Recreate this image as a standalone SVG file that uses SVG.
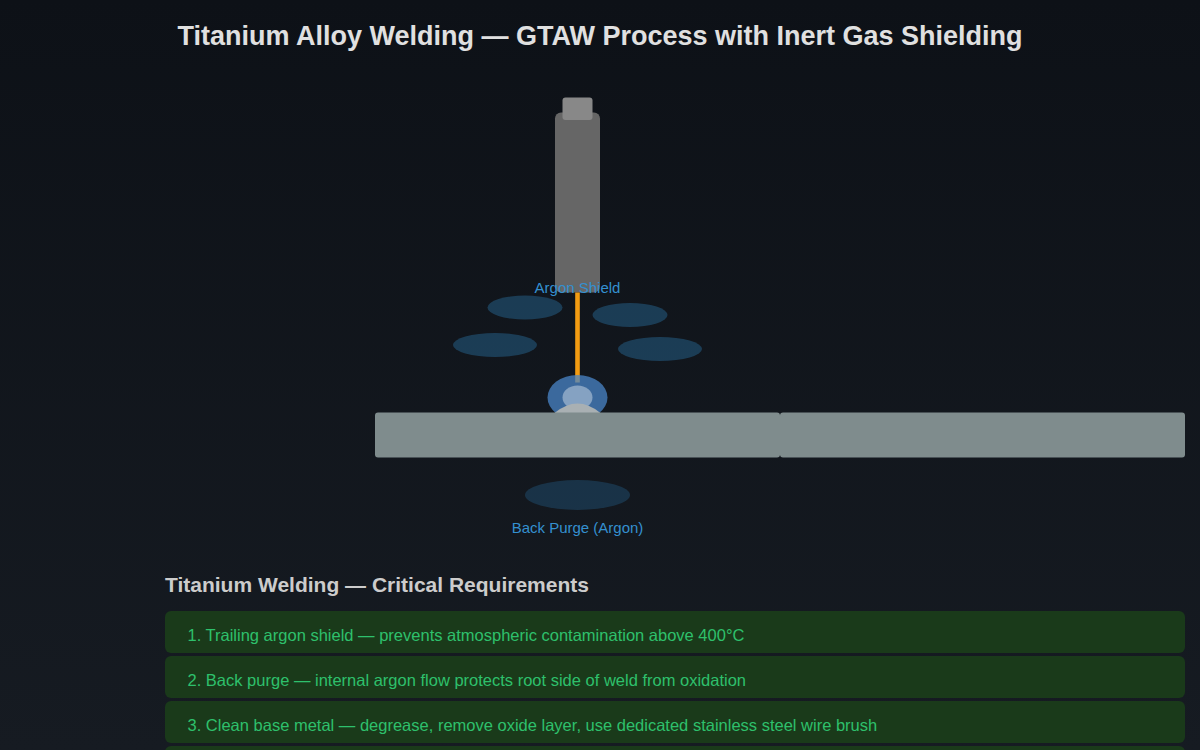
<svg xmlns="http://www.w3.org/2000/svg" width="1200" height="750" viewBox="0 0 1200 750">
  <style>
    text { font-family: "Liberation Sans", Arial, sans-serif; }
    .title { font-size: 27px; font-weight: 700; fill: #e0e0e0; text-anchor: middle; }
    .heading { font-size: 21px; font-weight: 700; fill: #cccccc; }
    .gas-label { font-size: 15px; fill: #3490d0; text-anchor: middle; }
    .gas { fill: #3498db; opacity: 0.3; }
    .purge { fill: #3498db; opacity: 0.22; }
    .plate { fill: #7f8c8d; }
    .card { fill: #1a3a1a; }
    .card-text { font-size: 16.5px; fill: #2ec06c; }
  </style>
  <defs>
    <linearGradient id="backdrop" x1="0" y1="0" x2="0" y2="1">
      <stop offset="0" stop-color="#0d1117"/>
      <stop offset="1" stop-color="#161b22"/>
    </linearGradient>
  </defs>
  <rect width="1200" height="750" fill="url(#backdrop)"/>
  <text class="title" x="600" y="45">Titanium Alloy Welding — GTAW Process with Inert Gas Shielding</text>

  <g id="torch">
    <rect x="555" y="112.5" width="45" height="180" rx="6" fill="#666666"/>
    <rect x="562.5" y="97.5" width="30" height="22.5" rx="3" fill="#888888"/>
  </g>
  <g id="electrode">
    <rect x="575.2" y="292.5" width="4.6" height="90" fill="#f39c12"/>
  </g>
  <g id="shield-gas">
    <ellipse class="gas" cx="525" cy="307.5" rx="37.5" ry="12"/>
    <ellipse class="gas" cx="630" cy="315" rx="37.5" ry="12"/>
    <ellipse class="gas" cx="495" cy="345" rx="42" ry="12"/>
    <ellipse class="gas" cx="660" cy="349" rx="42" ry="12"/>
    <text class="gas-label" x="577.5" y="292.5">Argon Shield</text>
  </g>
  <g id="arc">
    <ellipse cx="577.5" cy="397.5" rx="30" ry="22.5" fill="#4a86c8" opacity="0.75"/>
    <ellipse cx="577.5" cy="397.5" rx="15" ry="12" fill="#ffffff" opacity="0.38"/>
  </g>
  <g id="weld-bead">
    <path d="M554.5 413 Q577.5 394 600.5 413 Z" fill="#a9b0b3"/>
  </g>
  <g id="plate-left">
    <rect class="plate" x="375" y="412.5" width="405" height="45" rx="3"/>
  </g>
  <g id="plate-right">
    <rect class="plate" x="780" y="412.5" width="405" height="45" rx="3"/>
  </g>
  <g id="back-purge">
    <ellipse class="purge" cx="577.5" cy="495" rx="52.5" ry="15"/>
    <text class="gas-label" x="577.5" y="532.5">Back Purge (Argon)</text>
  </g>

  <text class="heading" x="165" y="592">Titanium Welding — Critical Requirements</text>
  <g id="req-1">
    <rect class="card" x="165" y="611" width="1020" height="42" rx="6"/>
    <text class="card-text" x="187.5" y="641">1. Trailing argon shield — prevents atmospheric contamination above 400°C</text>
  </g>
  <g id="req-2">
    <rect class="card" x="165" y="656" width="1020" height="42" rx="6"/>
    <text class="card-text" x="187.5" y="686">2. Back purge — internal argon flow protects root side of weld from oxidation</text>
  </g>
  <g id="req-3">
    <rect class="card" x="165" y="701" width="1020" height="42" rx="6"/>
    <text class="card-text" x="187.5" y="731">3. Clean base metal — degrease, remove oxide layer, use dedicated stainless steel wire brush</text>
  </g>
  <g id="req-4">
    <rect class="card" x="165" y="746" width="1020" height="42" rx="6"/>
  </g>
</svg>
